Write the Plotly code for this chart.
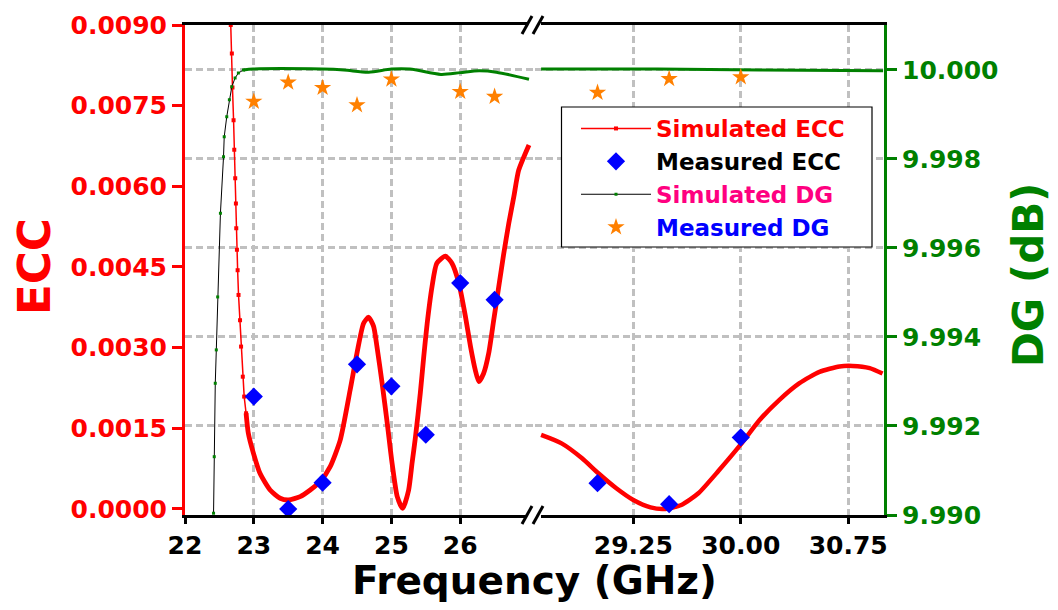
import plotly.graph_objects as go

# ---------------- data ----------------
# Simulated ECC (frequency in GHz, ECC)
ecc_sim_freq = [22.665, 22.681, 22.690, 22.706, 22.716, 22.730, 22.740, 22.745, 22.755, 22.765,
                22.778, 22.800, 22.815, 22.840, 22.860, 22.888, 22.920,
                22.994, 23.090, 23.237, 23.383, 23.504, 23.674, 23.820, 23.965, 24.110,
                24.256, 24.400, 24.500, 24.595, 24.668, 24.740, 24.790, 24.865, 24.940,
                25.010, 25.085, 25.164, 25.250, 25.300, 25.350, 25.420, 25.470, 25.520,
                25.590, 25.660, 25.785, 25.880, 25.980, 26.076, 26.150, 26.220, 26.270,
                26.340, 26.415, 26.487, 26.560, 26.633, 26.706, 26.780, 26.850, 27.000,
                28.606, 28.749, 28.892, 29.006, 29.131, 29.250, 29.370, 29.465, 29.585,
                29.704, 29.845, 30.000, 30.130, 30.270, 30.410, 30.550, 30.690, 30.780, 30.900, 30.990]
ecc_sim_val = [0.00900, 0.00847, 0.00784, 0.00723, 0.00668, 0.00615, 0.00568, 0.00522, 0.00482, 0.00444,
               0.00398, 0.00351, 0.00302, 0.00246, 0.00209, 0.00178, 0.00141,
               0.00104, 0.000664, 0.000353, 0.000199, 0.000167, 0.000229, 0.000353, 0.000508, 0.000787,
               0.00128, 0.00221, 0.00290, 0.00345, 0.003565, 0.00340, 0.00302, 0.00234, 0.00159,
               0.00085, 0.00023, 0.00001, 0.00035, 0.00085, 0.00134, 0.00215, 0.00283, 0.00345,
               0.00413, 0.00457, 0.00470, 0.00457, 0.00420, 0.00358, 0.00302, 0.00258, 0.00237,
               0.00252, 0.00290, 0.00351, 0.00413, 0.00475, 0.00531, 0.00581, 0.00630, 0.00677,
               0.001376, 0.00122, 0.000943, 0.000664, 0.000385, 0.000167, 0.00003, 0.0, 0.000074,
               0.000292, 0.000710, 0.00120, 0.00165, 0.00203, 0.00234, 0.00255, 0.00265, 0.00266, 0.00262, 0.00252]

# Measured ECC
ecc_meas_freq = [23.0, 23.5, 24.0, 24.5, 25.0, 25.5, 26.0, 26.5, 29.0, 29.5, 30.0]
ecc_meas_val = [0.00209, 0.0000, 0.00049, 0.00269, 0.00228, 0.00138, 0.00420, 0.00389,
                0.00048, 0.00009, 0.00133]

# Simulated diversity gain (dB)
dg_sim_freq = [22.415, 22.425, 22.440, 22.455, 22.475, 22.515, 22.560, 22.570, 22.607, 22.645,
               22.680, 22.728, 22.776, 22.850,
               22.990, 23.994, 24.310, 24.670, 25.000, 25.270, 25.720, 26.000, 26.275, 26.525, 27.000,
               28.606, 29.418, 30.134, 30.994]
dg_sim_val = [9.99004, 9.99131, 9.99296, 9.99371, 9.99490, 9.99678, 9.99805, 9.99850, 9.99895, 9.99933,
              9.99962, 9.99982, 9.99993, 10.00000,
              10.00002, 10.00002, 10.00000, 9.99995, 10.00002, 10.00002, 9.99990, 9.99994, 9.99998, 9.99995, 9.99979,
              10.00002, 10.00002, 10.00000, 9.99998]

# Measured diversity gain (dB)
dg_meas_freq = [23.0, 23.5, 24.0, 24.5, 25.0, 26.0, 26.5, 29.0, 29.5, 30.0]
dg_meas_val = [9.99929, 9.99972, 9.99960, 9.99921, 9.99979, 9.99951, 9.99940, 9.99949, 9.99980, 9.99984]

# axis ticks
x_left_ticks = [22, 23, 24, 25, 26]
x_right_ticks = [29.25, 30.00, 30.75]
x_right_ticktext = ["29.25", "30.00", "30.75"]
ecc_ticks = [0.0, 0.0015, 0.0030, 0.0045, 0.0060, 0.0075, 0.0090]
dg_ticks = [9.990, 9.992, 9.994, 9.996, 9.998, 10.000]

# ---------------- styling ----------------
FONT = "DejaVu Sans"
RED = "#FF0000"
GREEN = "#008000"
BLUE = "#0000FF"
ORANGE = "#FF8000"
PINK = "#FF0080"
GRID = "#C0C0C0"

W, H = 1058, 610
ML, MR, MT, MB = 185, 174, 25, 95
PW, PH = W - ML - MR, H - MT - MB

LEFT_RANGE = [22, 27.08]
RIGHT_RANGE = [28.56, 31.0]
BREAK_LO, BREAK_HI = 27.5, 28.0   # frequencies on either side of the axis break
ECC_STEEP_END = 22.888            # sparse-marker part of the simulated ECC trace
DG_STEEP_END = 22.85              # sparse-marker part of the simulated DG trace


def pick(freq, vals, lo, hi):
    xs, ys = [], []
    for f, v in zip(freq, vals):
        if lo <= f <= hi:
            xs.append(f)
            ys.append(v)
    return xs, ys


def span(text, color):
    return f"<span style='color:{color}'>{text}</span>"


fig = go.Figure()

# --- simulated ECC ---
xs, ys = pick(ecc_sim_freq, ecc_sim_val, 0, ECC_STEEP_END)
fig.add_trace(go.Scatter(x=xs, y=ys, xaxis="x", yaxis="y", mode="lines+markers",
                         line=dict(color=RED, width=1.5), marker=dict(symbol="square", size=4, color=RED),
                         name=span("Simulated ECC", RED), legendgroup="ecc_sim", legendrank=1))
xs, ys = pick(ecc_sim_freq, ecc_sim_val, ECC_STEEP_END, BREAK_LO)
fig.add_trace(go.Scatter(x=xs, y=ys, xaxis="x", yaxis="y", mode="lines",
                         line=dict(color=RED, width=4.8, shape="spline", smoothing=0.6),
                         legendgroup="ecc_sim", showlegend=False))
xs, ys = pick(ecc_sim_freq, ecc_sim_val, BREAK_HI, 99)
fig.add_trace(go.Scatter(x=xs, y=ys, xaxis="x2", yaxis="y", mode="lines",
                         line=dict(color=RED, width=4.5, shape="spline", smoothing=0.6),
                         legendgroup="ecc_sim", showlegend=False))

# --- measured ECC ---
for ax, lo, hi, show in (("x", 0, BREAK_LO, True), ("x2", BREAK_HI, 99, False)):
    xs, ys = pick(ecc_meas_freq, ecc_meas_val, lo, hi)
    fig.add_trace(go.Scatter(x=xs, y=ys, xaxis=ax, yaxis="y", mode="markers",
                             marker=dict(symbol="diamond", size=14, color=BLUE),
                             name=span("Measured ECC", "#000000"), legendgroup="ecc_meas",
                             showlegend=show, legendrank=2))

# --- simulated DG ---
xs, ys = pick(dg_sim_freq, dg_sim_val, 0, DG_STEEP_END)
fig.add_trace(go.Scatter(x=xs, y=ys, xaxis="x", yaxis="y2", mode="lines+markers",
                         line=dict(color="#000000", width=1), marker=dict(symbol="square", size=3, color=GREEN),
                         name=span("Simulated DG", PINK), legendgroup="dg_sim", legendrank=3))
xs, ys = pick(dg_sim_freq, dg_sim_val, DG_STEEP_END, BREAK_LO)
fig.add_trace(go.Scatter(x=xs, y=ys, xaxis="x", yaxis="y2", mode="lines",
                         line=dict(color=GREEN, width=3, shape="spline", smoothing=0.8),
                         legendgroup="dg_sim", showlegend=False))
xs, ys = pick(dg_sim_freq, dg_sim_val, BREAK_HI, 99)
fig.add_trace(go.Scatter(x=xs, y=ys, xaxis="x2", yaxis="y2", mode="lines",
                         line=dict(color=GREEN, width=3, shape="spline", smoothing=0.8),
                         legendgroup="dg_sim", showlegend=False))

# --- measured DG ---
for ax, lo, hi, show in (("x", 0, BREAK_LO, True), ("x2", BREAK_HI, 99, False)):
    xs, ys = pick(dg_meas_freq, dg_meas_val, lo, hi)
    fig.add_trace(go.Scatter(x=xs, y=ys, xaxis=ax, yaxis="y2", mode="markers",
                             marker=dict(symbol="star", size=13, color=ORANGE, line=dict(width=0)),
                             name=span("Measured DG", BLUE), legendgroup="dg_meas",
                             showlegend=show, legendrank=4))

tick_font = dict(family=FONT, size=25, weight="bold")
x_common = dict(anchor="y", showline=True, linecolor="#000000", linewidth=2.5, mirror=True,
                ticks="outside", ticklen=6, tickwidth=2.5, tickcolor="#000000",
                showgrid=True, gridcolor=GRID, gridwidth=2.5, griddash="7px,4px",
                zeroline=False, tickfont=dict(color="#000000", **tick_font))


def px_x(p):
    return (p - ML) / PW


def px_y(p):
    return (H - MB - p) / PH


fig.update_layout(
    width=W, height=H,
    margin=dict(l=ML, r=MR, t=MT, b=MB),
    paper_bgcolor="white", plot_bgcolor="white",
    font=dict(family=FONT),
    xaxis=dict(domain=[0, 0.5], range=LEFT_RANGE, tickmode="array", tickvals=x_left_ticks, **x_common),
    xaxis2=dict(domain=[0.5, 1], range=RIGHT_RANGE, tickmode="array", tickvals=x_right_ticks,
                ticktext=x_right_ticktext, **x_common),
    yaxis=dict(domain=[0, 1], anchor="x", side="left", range=[-0.000112, 0.009],
               tickmode="array", tickvals=ecc_ticks, tickformat=".4f",
               showline=True, linecolor=RED, linewidth=3, ticks="outside", ticklen=10,
               tickwidth=3, tickcolor=RED, showgrid=False, zeroline=False,
               tickfont=dict(color=RED, **tick_font)),
    yaxis2=dict(overlaying="y", anchor="x2", side="right", range=[9.990, 10.00101],
                tickmode="array", tickvals=dg_ticks, tickformat=".3f",
                showline=True, linecolor=GREEN, linewidth=3, ticks="outside", ticklen=10,
                tickwidth=3, tickcolor=GREEN, showgrid=True, gridcolor=GRID, gridwidth=2.5,
                griddash="7px,4px", zeroline=False,
                tickfont=dict(color=GREEN, **tick_font)),
    legend=dict(x=px_x(576), y=px_y(107), xanchor="left", yanchor="top",
                bgcolor="rgba(0,0,0,0)", borderwidth=0,
                font=dict(family=FONT, size=23, weight="bold"),
                itemwidth=70, tracegroupgap=0),
    showlegend=True,
)

# legend frame (opaque box behind the legend entries)
fig.add_shape(type="rect", xref="paper", yref="paper",
              x0=px_x(561.5), x1=px_x(872), y0=px_y(247), y1=px_y(107),
              line=dict(color="#000000", width=1.2), fillcolor="white", layer="above")

# axis titles
fig.add_annotation(text="Frequency (GHz)", xref="paper", yref="paper", x=0.5, y=px_y(580),
                   xanchor="center", yanchor="middle", showarrow=False,
                   font=dict(family=FONT, size=39, weight="bold", color="#000000"))
fig.add_annotation(text="ECC", xref="paper", yref="paper", x=px_x(34), y=px_y(267),
                   xanchor="center", yanchor="middle", textangle=-90, showarrow=False,
                   font=dict(family=FONT, size=45, weight="bold", color=RED))
fig.add_annotation(text="DG (dB)", xref="paper", yref="paper", x=px_x(1028), y=px_y(275),
                   xanchor="center", yanchor="middle", textangle=-90, showarrow=False,
                   font=dict(family=FONT, size=42, weight="bold", color=GREEN))

# axis-break marks on the bottom and top frame lines
for ly in (H - MB, MT):
    fig.add_shape(type="rect", xref="paper", yref="paper",
                  x0=px_x(527), x1=px_x(541), y0=px_y(ly + 4), y1=px_y(ly - 4),
                  line=dict(width=0), fillcolor="white", layer="above")
    for sx in (522, 533):
        fig.add_shape(type="line", xref="paper", yref="paper",
                      x0=px_x(sx), y0=px_y(ly + 9), x1=px_x(sx + 10), y1=px_y(ly - 9),
                      line=dict(color="#000000", width=3), layer="above")

fig.write_html("out.html")
